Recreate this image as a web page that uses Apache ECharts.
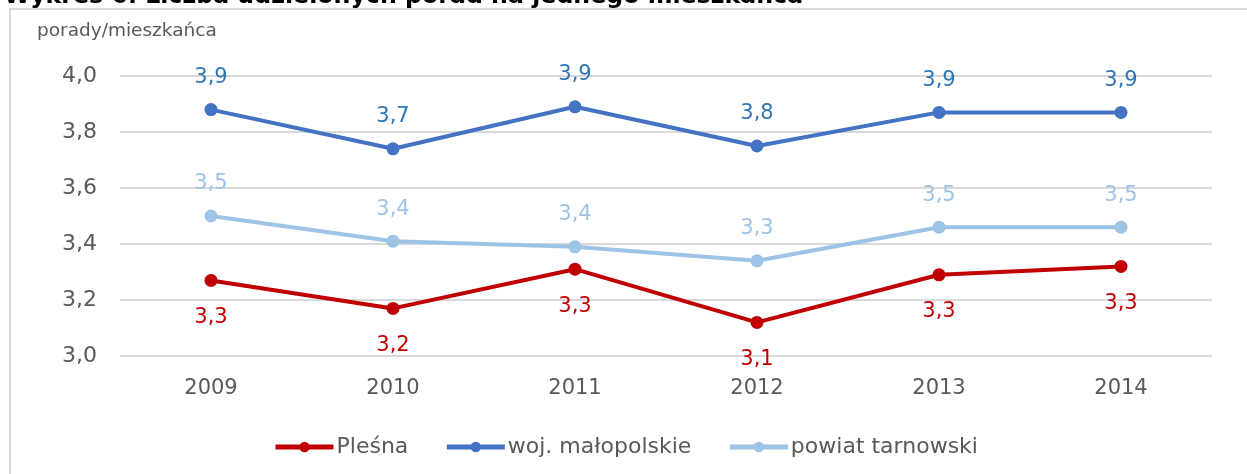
<!DOCTYPE html>
<html>
<head>
<meta charset="utf-8">
<script src="https://cdn.jsdelivr.net/npm/echarts@6/dist/echarts.min.js"></script>
<style>
  html, body { margin: 0; padding: 0; background: #fff; }
  #chart { width: 1247px; height: 474px; }
</style>
</head>
<body>
<div id="chart"></div>
<script>
const years = ["2009", "2010", "2011", "2012", "2013", "2014"];
const plesna = [3.27, 3.17, 3.31, 3.12, 3.29, 3.32];
const malopolskie = [3.88, 3.74, 3.89, 3.75, 3.87, 3.87];
const tarnowski = [3.50, 3.41, 3.39, 3.34, 3.46, 3.46];
const yTicks = [3.0, 3.2, 3.4, 3.6, 3.8, 4.0];

const font = "DejaVu Sans";
const fmt = function (v) {
  return Number(v).toFixed(1).replace(".", ",");
};

function lineSeries(name, data, color, labelColor, labelPos, dist) {
  return {
    name: name,
    type: "line",
    data: data,
    symbol: "circle",
    symbolSize: 13,
    lineStyle: { width: 4, color: color },
    itemStyle: { color: color },
    label: {
      show: true,
      position: labelPos,
      distance: dist,
      color: labelColor,
      fontFamily: font,
      fontSize: 21,
      formatter: function (p) { return fmt(p.value); }
    },
    emphasis: { disabled: true },
    animation: false
  };
}

const option = {
  backgroundColor: "#fff",
  textStyle: { fontFamily: font },
  graphic: [
    {
      // ramka wykresu
      type: "rect",
      shape: { x: 10, y: 9, width: 1300, height: 500 },
      style: { fill: "none", stroke: "#D9D9D9", lineWidth: 2 }
    },
    {
      type: "text",
      left: 4,
      top: -15,
      style: {
        text: "Wykres 6. Liczba udzielonych porad na jednego mieszkańca",
        fontFamily: font,
        fontWeight: "bold",
        fontSize: 23.7,
        fill: "#000"
      }
    },
    {
      type: "text",
      left: 37,
      top: 22,
      style: {
        text: "porady/mieszkańca",
        fontFamily: font,
        fontSize: 18.5,
        fill: "#595959"
      }
    }
  ],
  grid: { left: 120, right: 35, top: 76, bottom: 118 },
  legend: {
    data: ["Pleśna", "woj. małopolskie", "powiat tarnowski"],
    left: 268,
    top: 431,
    itemWidth: 58,
    itemHeight: 13,
    itemGap: 36,
    lineStyle: { width: 5 },
    textStyle: { fontFamily: font, fontSize: 22, color: "#595959", padding: [0, 0, 0, -2] }
  },
  xAxis: {
    type: "category",
    data: years,
    boundaryGap: true,
    axisLine: { show: false },
    axisTick: { show: false },
    axisLabel: { fontFamily: font, fontSize: 21, color: "#595959", margin: 22 }
  },
  yAxis: {
    type: "value",
    min: yTicks[0],
    max: yTicks[yTicks.length - 1],
    interval: 0.2,
    axisLine: { show: false },
    axisTick: { show: false },
    splitLine: { lineStyle: { color: "#D9D9D9", width: 2 } },
    axisLabel: { fontFamily: font, fontSize: 22, color: "#595959", margin: 23, formatter: fmt }
  },
  series: [
    lineSeries("Pleśna", plesna, "#C00000", "#C00000", "bottom", 20),
    lineSeries("woj. małopolskie", malopolskie, "#4472C4", "#2E75B6", "top", 15),
    lineSeries("powiat tarnowski", tarnowski, "#9DC3E6", "#9DC3E6", "top", 15)
  ]
};

const myChart = echarts.init(document.getElementById("chart"));
myChart.setOption(option);
</script>
</body>
</html>
